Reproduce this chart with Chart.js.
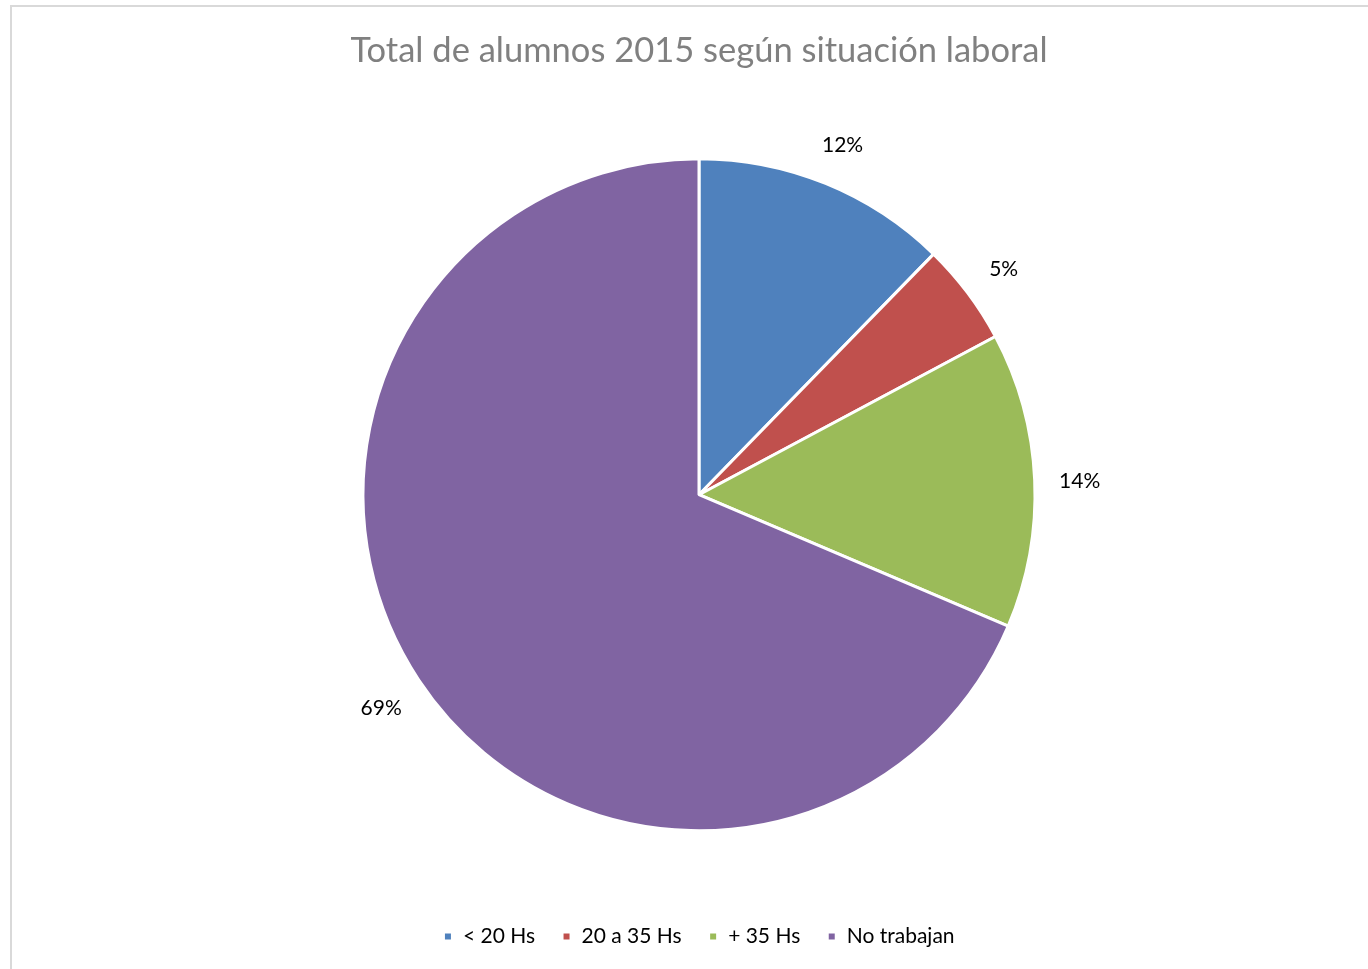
<!DOCTYPE html>
<html>
<head>
<meta charset="utf-8">
<script src="https://cdn.jsdelivr.net/npm/chart.js@4/dist/chart.umd.min.js"></script>
<style>
  html, body { margin: 0; padding: 0; background: #fff; overflow: hidden; }
  #wrap { position: relative; width: 1368px; height: 969px; }
  #frame { position: absolute; left: 10px; top: 5px; width: 1400px; height: 1000px; border: 2px solid #d9d9d9; pointer-events: none; }
  canvas { position: absolute; left: 0; top: 0; }
</style>
</head>
<body>
<div id="wrap">
  <div id="frame"></div>
  <canvas id="pieChart" width="1368" height="969"></canvas>
</div>
<script>
const categories = ['< 20 Hs', '20 a 35 Hs', '+ 35 Hs', 'No trabajan'];
const shares = [12.3, 4.9, 14.2, 68.6];
const sliceColors = ['#4f81bd', '#c0504d', '#9bbb59', '#8064a2'];
const chartTitle = 'Total de alumnos 2015 según situación laboral';

const total = shares.reduce((a, b) => a + b, 0);
const pctLabels = shares.map(v => Math.round(v / total * 100) + '%');

// percentage labels outside each slice, like the "outside end" labels in the original
const outsideLabels = {
  id: 'outsideLabels',
  afterDatasetsDraw(chart){
    const ctx = chart.ctx;
    const meta = chart.getDatasetMeta(0);
    ctx.save();
    ctx.font = '21px Lato';
    ctx.fillStyle = '#000';
    ctx.textAlign = 'center';
    ctx.textBaseline = 'middle';
    meta.data.forEach((arc, i) => {
      const p = arc.getProps(['x', 'y', 'startAngle', 'endAngle', 'outerRadius'], true);
      const mid = (p.startAngle + p.endAngle) / 2;
      const r = p.outerRadius + 45;
      ctx.fillText(pctLabels[i], p.x + Math.cos(mid) * r, p.y + Math.sin(mid) * r + 3);
    });
    ctx.restore();
  }
};

new Chart(document.getElementById('pieChart'), {
  type: 'pie',
  data: {
    labels: categories,
    datasets: [{
      data: shares,
      backgroundColor: sliceColors,
      borderColor: '#ffffff',
      borderWidth: 3,
      radius: 336
    }]
  },
  options: {
    responsive: false,
    animation: false,
    layout: { padding: { left: 30, right: 0, top: 0, bottom: 12 } },
    plugins: {
      title: {
        display: true,
        text: chartTitle,
        color: '#808080',
        font: { family: 'Lato', size: 34.5, weight: 'normal' },
        padding: { top: 30, bottom: 19 }
      },
      legend: {
        position: 'bottom',
        labels: {
          color: '#000',
          font: { family: 'Lato', size: 21 },
          boxWidth: 9,
          boxHeight: 9,
          padding: 27
        }
      },
      tooltip: { enabled: false }
    }
  },
  plugins: [outsideLabels]
});
</script>
</body>
</html>
